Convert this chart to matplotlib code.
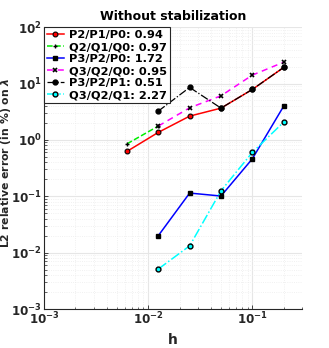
import matplotlib
matplotlib.use("Agg")
import matplotlib.pyplot as plt
import numpy as np

h = [0.00625, 0.0125, 0.025, 0.05, 0.1, 0.2]

labels = ["P2/P1/P0: 0.94", "Q2/Q1/Q0: 0.97", "P3/P2/P0: 1.72",
          "Q3/Q2/Q0: 0.95", "P3/P2/P1: 0.51", "Q3/Q2/Q1: 2.27"]

h_p2p1p0 = h
p2p1p0 = [0.625, 1.36, 2.64, 3.66, 7.85, 19.3]

h_q2q1q0 = h[:2]
q2q1q0 = [0.85, 1.76]

h_p3p2p0 = h[1:]
p3p2p0 = [0.020, 0.114, 0.101, 0.462, 3.97]

h_q3q2q0 = h[1:]
q3q2q0 = [1.76, 3.71, 6.05, 14.1, 23.9]

h_p3p2p1 = h[1:]
p3p2p1 = [3.24, 8.53, 3.66, 7.85, 19.3]

h_q3q2q1 = h[1:]
q3q2q1 = [0.00512, 0.0132, 0.125, 0.60, 2.07]

plt.rcParams['font.family'] = ['DejaVu Sans']
plt.rcParams['font.weight'] = 'bold'

fig = plt.figure(figsize=(3.29, 3.48), dpi=100)
ax = fig.add_axes([0.134, 0.112, 0.784, 0.81])

ax.plot(h_p2p1p0, p2p1p0, '-', color='red', lw=1.1, marker='o', ms=3.5,
        mfc='red', mec='black', mew=0.8, label=labels[0])
ax.plot(h_q2q1q0, q2q1q0, '--', color='#00ee00', lw=1.1, marker='+', ms=3.5,
        mec='black', mew=1.0, label=labels[1])
ax.plot(h_p3p2p0, p3p2p0, '-', color='blue', lw=1.1, marker='s', ms=3,
        mfc='black', mec='black', label=labels[2])
ax.plot(h_q3q2q0, q3q2q0, '--', color='magenta', lw=1.1, marker='x', ms=3,
        mec='black', mew=1.2, dashes=(4, 3), label=labels[3])
ax.plot(h_p3p2p1, p3p2p1, '-.', color='black', lw=0.9, marker='o', ms=3.5,
        mfc='black', mec='black', label=labels[4])
ax.plot(h_q3q2q1, q3q2q1, '-.', color='cyan', lw=1.1, marker='o', ms=3.5,
        mfc='cyan', mec='black', mew=1.0, label=labels[5])

ax.set_xscale('log')
ax.set_yscale('log')
ax.set_xlim(1e-3, 0.3)
ax.set_ylim(1e-3, 1e2)

ax.grid(True, which='major', color='#e6e6e6', lw=0.8, ls='-')
ax.grid(True, which='minor', color='#ececec', lw=0.6, ls=':')
ax.set_axisbelow(True)

for s in ['top', 'right']:
    ax.spines[s].set_visible(False)
for s in ['left', 'bottom']:
    ax.spines[s].set_color('#262626')
    ax.spines[s].set_linewidth(0.8)

ax.tick_params(axis='both', which='major', labelsize=8.6, length=3, width=0.6,
               colors='#262626', direction='in', pad=1.5)
ax.tick_params(axis='both', which='minor', length=1.8, width=0.5, direction='in',
               colors='#262626')
for lab in ax.get_xticklabels() + ax.get_yticklabels():
    lab.set_fontweight('bold')

ax.set_xlabel('h', fontsize=10, fontweight='bold', color='#262626')
ax.xaxis.set_label_coords(0.5, -0.085)
ax.set_ylabel(r'L2 relative error (in %) on $\lambda$', fontsize=7.8,
              fontweight='bold', color='#262626')
ax.yaxis.set_label_coords(-0.12, 0.52)
ax.set_title('Without stabilization', fontsize=9, fontweight='bold', pad=5)

leg = ax.legend(loc='upper left', prop={'weight': 'bold', 'size': 8.2},
                borderaxespad=0, handlelength=1.5, handletextpad=0.45,
                labelspacing=0.18, borderpad=0.25, frameon=True, fancybox=False,
                framealpha=1)
leg.get_frame().set_edgecolor('#262626')
leg.get_frame().set_linewidth(0.8)

fig.savefig('out.png', dpi=100)
